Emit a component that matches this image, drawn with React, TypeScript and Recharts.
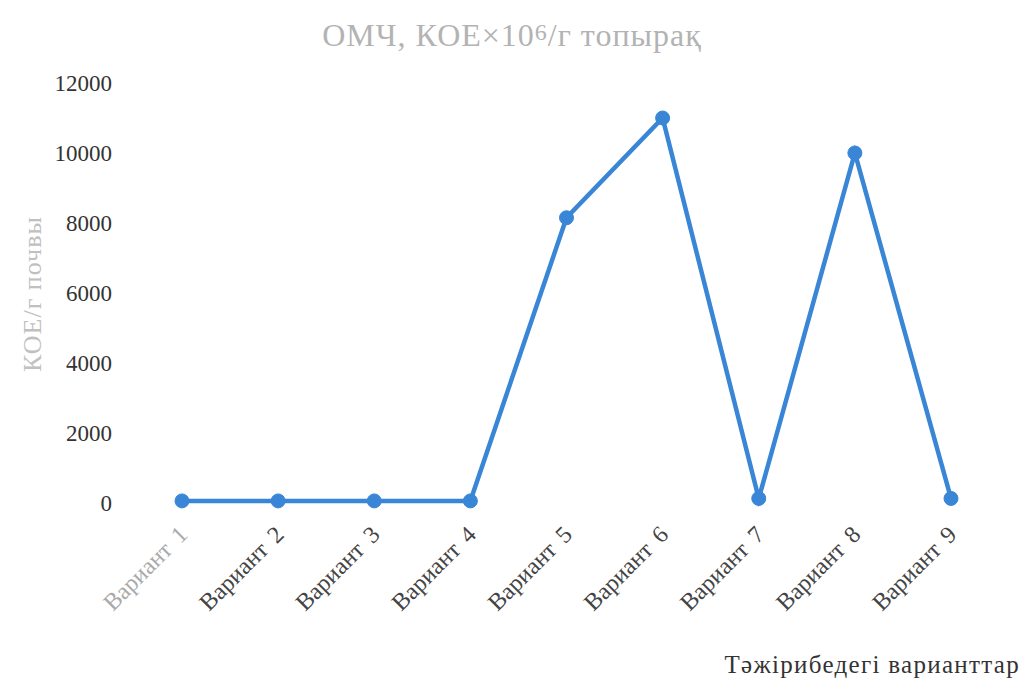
import { LineChart, Line, XAxis, YAxis } from "recharts";

const variants = [
  "Вариант 1",
  "Вариант 2",
  "Вариант 3",
  "Вариант 4",
  "Вариант 5",
  "Вариант 6",
  "Вариант 7",
  "Вариант 8",
  "Вариант 9",
];
const cfu = [60, 60, 60, 60, 8150, 11000, 130, 10000, 130];
const yTicks = [0, 2000, 4000, 6000, 8000, 10000, 12000];

const titleMain = "ОМЧ, КОЕ×10";
const titleSup = "6";
const titleRest = "/г топырақ";
const yTitle = "КОЕ/г почвы";
const xTitle = "Тәжірибедегі варианттар";

const data = variants.map((v, i) => ({ name: v, value: cfu[i] }));

const serif = "'Liberation Serif', 'DejaVu Serif', serif";
const lineColor = "#3a86d6";

// eslint-disable-next-line @typescript-eslint/no-explicit-any
function RotatedTick({ x, y, payload, index }: any) {
  const parts = String(payload.value).split(" ");
  const ax = x + 7;
  const ay = y + 25;
  return (
    <text
      x={ax}
      y={ay}
      transform={`rotate(-45, ${ax}, ${ay})`}
      textAnchor="end"
      fill={index === 0 ? "#aaaaaa" : "#444"}
      fontSize={24}
      fontFamily={serif}
    >
      <tspan>{parts[0]}</tspan>
      <tspan dx={10}>{parts[1]}</tspan>
    </text>
  );
}

export default function App() {
  return (
    <div style={{ position: "absolute", left: 0, top: 0, width: 1024, height: 680, background: "#fff" }}>
      <div
        style={{
          position: "absolute",
          left: 0,
          width: 1024,
          top: 12,
          textAlign: "center",
          fontFamily: serif,
          fontSize: 32,
          letterSpacing: 1,
          color: "#b3b3b3",
          lineHeight: "40px",
        }}
      >
        {titleMain}
        <span style={{ fontSize: 24, verticalAlign: "6px" }}>{titleSup}</span>
        {titleRest}
      </div>
      <div
        style={{
          position: "absolute",
          left: 33,
          top: 294,
          transform: "translate(-50%, -50%) rotate(-90deg)",
          whiteSpace: "nowrap",
          fontFamily: serif,
          fontSize: 26,
          letterSpacing: 1,
          color: "#c0c0c0",
        }}
      >
        {yTitle}
      </div>
      <div
        style={{
          position: "absolute",
          right: 4,
          top: 651,
          fontFamily: serif,
          fontSize: 25,
          letterSpacing: 1.3,
          color: "#333",
          whiteSpace: "nowrap",
        }}
      >
        {xTitle}
      </div>
      <LineChart
        width={1024}
        height={680}
        data={data}
        margin={{ top: 83, right: 25, bottom: 0, left: 0 }}
      >
        <XAxis
          dataKey="name"
          axisLine={false}
          tickLine={false}
          interval={0}
          height={177}
          padding={{ left: 48, right: 48 }}
          tick={<RotatedTick />}
        />
        <YAxis
          width={134}
          domain={[0, 12000]}
          ticks={yTicks}
          axisLine={false}
          tickLine={false}
          tickMargin={16}
          tick={{ fill: "#333", fontSize: 23, fontFamily: serif }}
        />
        <Line
          type="linear"
          dataKey="value"
          stroke={lineColor}
          strokeWidth={4.5}
          dot={{ r: 7, fill: lineColor, stroke: lineColor, strokeWidth: 1 }}
          isAnimationActive={false}
        />
      </LineChart>
    </div>
  );
}
